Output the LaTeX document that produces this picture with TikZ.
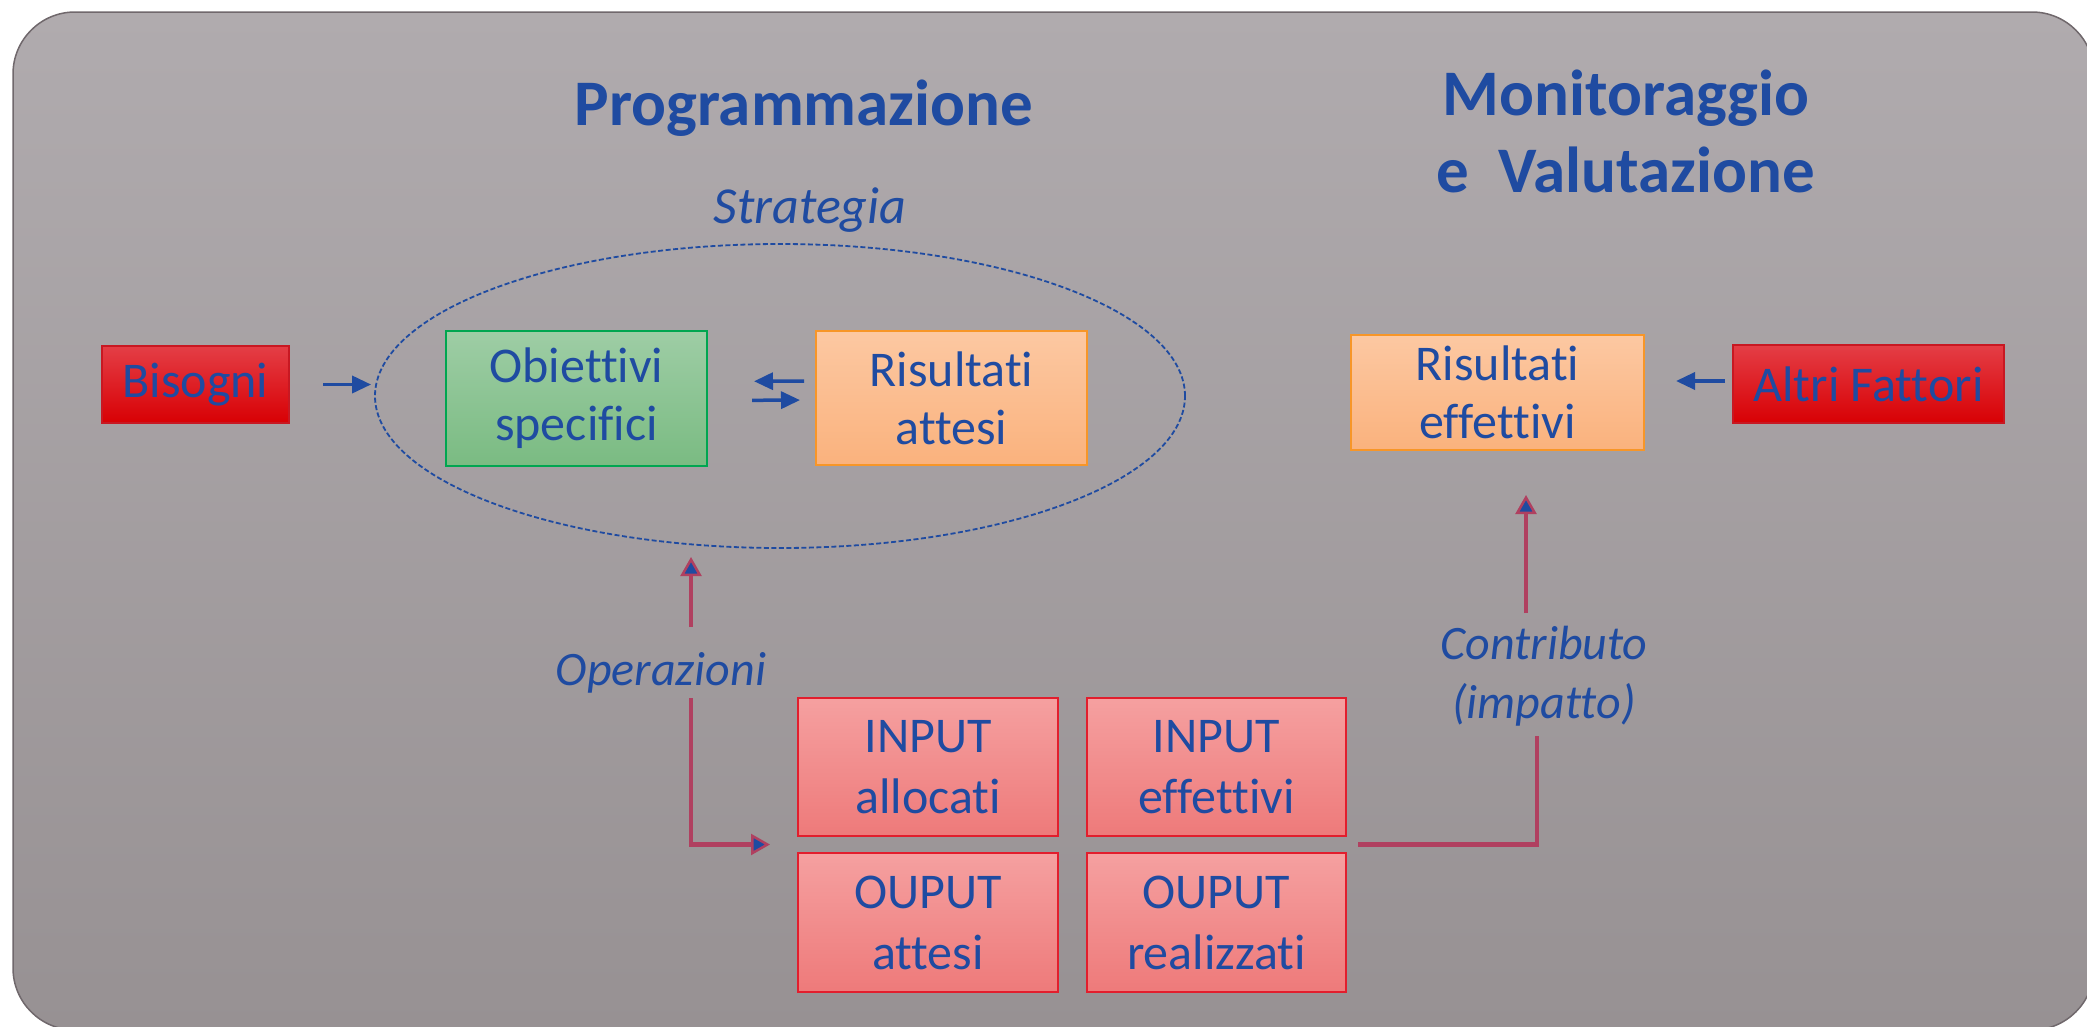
\documentclass[tikz,border=0pt]{standalone}
\usepackage{fontspec}
\setmainfont{Carlito}[Ligatures={NoCommon,NoContextual}]
\usetikzlibrary{arrows.meta,shapes.geometric,calc}
\definecolor{tblue}{RGB}{31,75,161}
\definecolor{crim}{RGB}{176,64,96}
\definecolor{bgtop}{RGB}{176,171,174}
\definecolor{bgbot}{RGB}{151,145,147}
\definecolor{frame}{RGB}{112,104,108}
\definecolor{redtop}{RGB}{228,62,70}
\definecolor{redbot}{RGB}{216,0,4}
\definecolor{redline}{RGB}{200,24,34}
\definecolor{grntop}{RGB}{158,205,165}
\definecolor{grnbot}{RGB}{122,187,130}
\definecolor{grnline}{RGB}{0,166,80}
\definecolor{orgtop}{RGB}{252,200,162}
\definecolor{orgbot}{RGB}{250,178,125}
\definecolor{orgline}{RGB}{247,150,40}
\definecolor{pnktop}{RGB}{245,160,160}
\definecolor{pnkbot}{RGB}{238,122,122}
\definecolor{pnkline}{RGB}{226,30,45}
\begin{document}
\begin{tikzpicture}[x=1pt,y=-1pt,
  boxbase/.style={draw, line width=2pt, text=tblue, align=center, inner sep=0pt},
  redbox/.style={boxbase, draw=redline, top color=redtop, bottom color=redbot, font=\fontsize{50}{58}\selectfont},
  grnbox/.style={boxbase, draw=grnline, top color=grntop, bottom color=grnbot, font=\fontsize{50}{58}\selectfont},
  orgbox/.style={boxbase, draw=orgline, top color=orgtop, bottom color=orgbot, font=\fontsize{50}{58}\selectfont},
  pnkbox/.style={boxbase, draw=pnkline, top color=pnktop, bottom color=pnkbot, font=\fontsize{50}{61}\selectfont, minimum width=260pt, minimum height=138pt},
  titletext/.style={text=tblue, inner sep=0pt, font=\bfseries\fontsize{65}{77}\selectfont},
  itallbl/.style={text=tblue, inner sep=0pt, font=\itshape\fontsize{48}{59}\selectfont},
  barrow/.style={draw=tblue, line width=3.5pt, -{Triangle[length=19pt,width=17pt]}},
  carrow/.style={draw=crim, line width=4.5pt, -{Triangle[length=19pt,width=21pt,fill=tblue,line width=2.5pt]}},
  cline/.style={draw=crim, line width=4.5pt}
]
\useasboundingbox (0,0) rectangle (2087,1026);
\fill[white] (0,0) rectangle (2087,1026);
\draw[rounded corners=62pt, draw=frame, line width=1.5pt, top color=bgtop, bottom color=bgbot] (13,12) rectangle (2094,1030);

% titles
\node[titletext, anchor=base] (prog) at (804,125) {Programmazione};
\node[titletext, align=center] (monit) at (1626,131) {Monitoraggio\\e\ \ Valutazione};
\node[itallbl, font=\itshape\fontsize{52}{62}\selectfont, anchor=base] (stratlbl) at (810,223) {Strategia};

% strategy ellipse
\node[ellipse, draw=tblue, dash pattern=on 5pt off 2.5pt, line width=1.8pt, minimum width=810pt, minimum height=304pt, inner sep=0pt] (strat) at (780,396) {};

% boxes
\node[redbox, minimum width=187pt, minimum height=77pt] (bis) at (195.5,384.5) {Bisogni};
\node[grnbox, minimum width=261pt, minimum height=135pt] (obj) at (576.5,398.5) {Obiettivi\\specifici};
\node[orgbox, minimum width=271pt, minimum height=134pt] (ris) at (951.5,398) {Risultati\\attesi};
\node[orgbox, minimum width=293pt, minimum height=115pt] (reff) at (1497.5,392.5) {Risultati\\effettivi};
\node[redbox, minimum width=271pt, minimum height=78pt] (altri) at (1868.5,384) {Altri Fattori};

\node[pnkbox] (inA) at (928,767) {INPUT\\allocati};
\node[pnkbox, minimum width=259pt] (inE) at (1216.5,767) {INPUT\\effettivi};
\node[pnkbox, minimum height=139pt] (outA) at (928,922.5) {OUPUT\\attesi};
\node[pnkbox, minimum width=259pt, minimum height=139pt] (outR) at (1216.5,922.5) {OUPUT\\realizzati};

% labels
\node[itallbl, anchor=base] (oper) at (661,685) {Operazioni};
\node[itallbl, align=center] (contrib) at (1544,676) {Contributo\\(impatto)};

% blue arrows
\draw[barrow, shorten <=33pt, shorten >=3pt] (bis.east) -- (strat.west |- bis.east);
\draw[barrow, shorten <=11pt, shorten >=46pt] ($(ris.west)+(0,-17)$) -- ($(obj.east)+(0,-17)$);
\draw[barrow, shorten <=44pt, shorten >=15pt] ($(obj.east)+(0,2)$) -- ($(ris.west)+(0,2)$);
\draw[barrow, shorten <=7pt, shorten >=31pt] ($(altri.west)+(0,-3)$) -- ($(reff.east |- altri.west)+(0,-3)$);

% operazioni arrows
\coordinate (opA) at (691,627);
\coordinate (opB) at (691,557);
\coordinate (opC) at (691,698);
\draw[carrow] (opA) -- (opB);
\draw[carrow, shorten >=27pt] (opC) |- ($(inA.south west)!0.5!(outA.north west)$);

% contributo
\coordinate (cA) at (1537,736);
\coordinate (cB) at (1526,613);
\draw[cline, shorten <=11pt] ($(inE.south east)!0.5!(outR.north east)$) -| (cA);
\draw[carrow, shorten >=44pt] (cB) -- (cB |- reff.south);
\end{tikzpicture}
\end{document}
